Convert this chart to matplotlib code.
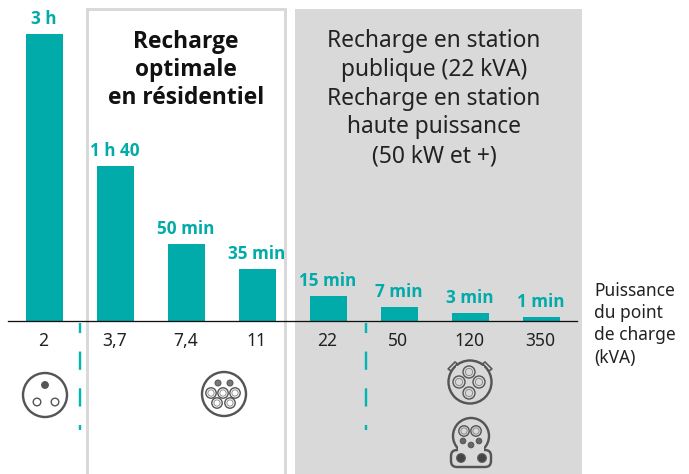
import matplotlib
matplotlib.use("Agg")
import matplotlib.pyplot as plt
from matplotlib.patches import Circle, Rectangle, FancyBboxPatch, Polygon
from matplotlib.transforms import Affine2D

# ---- data ----
power_labels = ["2", "3,7", "7,4", "11", "22", "50", "120", "350"]
bar_heights = [180.5, 97.5, 48.5, 32.7, 15.7, 8.8, 5, 2.5]
time_labels = ["3 h", "1 h 40", "50 min", "35 min", "15 min", "7 min", "3 min", "1 min"]
left_title = ["Recharge", "optimale", "en résidentiel"]
right_title = ["Recharge en station", "publique (22 kVA)", "Recharge en station",
               "haute puissance", "(50 kW et +)"]
axis_title = ["Puissance", "du point", "de charge", "(kVA)"]

W, H = 689, 474
TEAL = "#00aba9"
GREY = "#d9d9d9"
ICON = "#555555"
DARK = "#222222"
BOLD = ["Open Sans", "DejaVu Sans"]

plt.rcParams["font.family"] = ["Noto Sans", "DejaVu Sans"]
fig = plt.figure(figsize=(W / 100, H / 100), dpi=100)
ax = fig.add_axes([0, 0, 1, 1])
X0, DX, Y0, SY = 44, 71, 321, 1.59
ax.set_xlim((0 - X0) / DX, (W - X0) / DX)
ax.set_ylim(-(H - Y0) / SY, Y0 / SY)
ax.axis("off")

# pixel coordinates for the decoration (y going down)
px = Affine2D().scale(1, -1).translate(0, H)


def add(p):
    p.set_transform(px)
    p.set_clip_on(False)
    ax.add_patch(p)
    return p


def lw(v):
    return v * 0.72


add(Rectangle((295, 9), 287, 470, fc=GREY, ec="none", zorder=0))
add(Rectangle((87, 9), 198, 470, fc="white", ec=GREY, lw=lw(3), zorder=0))

xs = list(range(len(bar_heights)))
ax.bar(xs, bar_heights, width=37 / DX, color=TEAL, zorder=2)
ax.plot([(8 - X0) / DX, (577 - X0) / DX], [0, 0], color="#111111", lw=lw(1.3), zorder=3)

for x, v, t, lab in zip(xs, bar_heights, time_labels, power_labels):
    ax.annotate(t, (x, v), xytext=(0, 15 * 0.72), textcoords="offset points",
                ha="center", va="center", color=TEAL, fontsize=12.3, fontweight="bold",
                family=BOLD, zorder=4)
    ax.text(x - 0.01, -20 / SY, lab, ha="center", va="center", color=DARK, fontsize=12.6, zorder=4)

for line, y in zip(left_title, [42, 70, 98]):
    ax.text(186, y, line, transform=px, ha="center", va="center", color="#111111",
            fontsize=16.4, fontweight="bold", family=BOLD)
for line, y in zip(right_title, [41, 70, 99, 127, 156]):
    ax.text(434, y, line, transform=px, ha="center", va="center", color=DARK, fontsize=16.4)
for line, y in zip(axis_title, [290.5, 313, 335.5, 358]):
    ax.text(594.5, y, line, transform=px, ha="left", va="center", color=DARK, fontsize=12.5)

# dashed separators
for x in (80, 366):
    ax.plot([x, x], [323, 430], transform=px, color="#00b5b3", lw=lw(2.4),
            dash_capstyle="butt", linestyle=(3.4, (7.6, 7.7)), zorder=3)


# connector icons
def ring(x, y, r, fc=None, bg="white", inner=False, z=5):
    add(Circle((x, y), r, fc=bg if fc is None else fc, ec=ICON, lw=lw(1.4 if r > 3.5 else 1), zorder=z))
    if inner:
        add(Circle((x, y), r * 0.6, fc="none", ec="#888888", lw=lw(0.9), zorder=z))


# type E plug
add(Circle((45, 395), 22, fc="white", ec=ICON, lw=lw(2.4), zorder=4))
ring(45, 385, 3.4, fc=ICON)
ring(37, 402, 3.8)
ring(55, 402, 3.8)

# type 2
add(Circle((224, 394), 22, fc="white", ec=ICON, lw=lw(2.4), zorder=4))
for x in (218, 230):
    ring(x, 383, 3, fc="#777777")
for x in (211, 223, 235):
    ring(x, 393, 5.2, inner=True)
for x in (217, 230):
    ring(x, 403, 5.2, inner=True)

# type 3 / combo
add(Polygon([(453, 372), (448, 369), (455, 362), (459, 365), (481, 365), (485, 362), (492, 369), (487, 372)],
            closed=True, fc=GREY, ec=ICON, lw=lw(1.6), zorder=4))
add(Circle((470, 382), 21.5, fc=GREY, ec=ICON, lw=lw(2.4), zorder=4))
add(Rectangle((456, 366), 28, 9, fc=GREY, ec="none", zorder=4))
for x, y in [(469, 372), (459, 382), (479, 382), (469, 393)]:
    ring(x, y, 6, bg=GREY, inner=True)

# CCS
add(Circle((471, 436), 18, fc=GREY, ec=ICON, lw=lw(2.4), zorder=4))
add(FancyBboxPatch((456, 455), 30, 7, boxstyle="round,pad=5,rounding_size=6", fc=GREY, ec=ICON, lw=lw(2.4), zorder=4))
add(Rectangle((458, 446), 26, 9, fc=GREY, ec="none", zorder=4))
for x in (464, 476):
    ring(x, 431, 5.2, bg=GREY, inner=True)
for x, y in [(463, 441), (479, 441), (471, 445)]:
    ring(x, y, 2.8, fc="#666666")
for x in (461, 482):
    ring(x, 458, 4.2, fc="#444444")

fig.savefig("out.png", dpi=100)
